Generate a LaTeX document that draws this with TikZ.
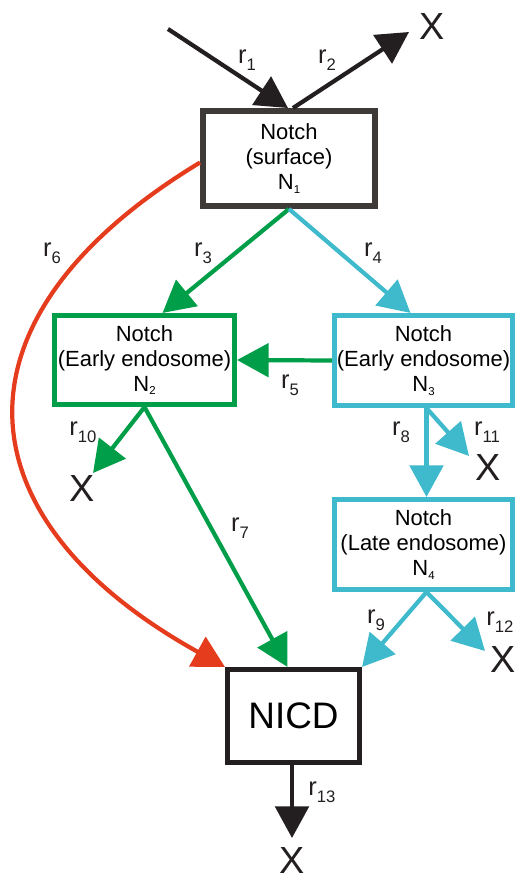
\documentclass[tikz,border=0pt]{standalone}
\usepackage{fontspec}
\setmainfont{Liberation Sans}
\usetikzlibrary{arrows.meta,calc}
\definecolor{cgreen}{RGB}{0,158,73}
\definecolor{ccyan}{RGB}{62,186,204}
\definecolor{cred}{RGB}{230,60,30}
\definecolor{cdark}{RGB}{35,31,32}
\definecolor{cgray}{RGB}{61,58,56}
\newcommand{\rlab}[1]{r\raisebox{-4pt}{\fontsize{9.5}{9.5}\selectfont #1}}
\newcommand{\nsub}[1]{N\raisebox{-2pt}{\fontsize{6.5}{6.5}\selectfont #1}}
\begin{document}
\begin{tikzpicture}[x=0.02cm,y=-0.02cm,
  box/.style={draw, rectangle, fill=white, align=center, inner sep=0pt,
    font=\fontsize{12.5}{14.2}\selectfont},
  arr/.style={line width=2.4pt, -{Triangle[length=18pt,width=19pt]}},
  lab/.style={font=\fontsize{14.5}{14.5}\selectfont, text=cdark, inner sep=0pt},
  xlab/.style={font=\fontsize{21.5}{21.5}\selectfont, text=cdark, inner sep=0pt}]
\useasboundingbox (0,0) rectangle (517,879);

% boxes
\node[box, draw=cgray, line width=3.4pt, minimum width=3.44cm, minimum height=1.9cm] (N1) at (289,158.5)
  {Notch\\(surface)\\\nsub{1}};
\node[box, draw=cgreen, line width=2.9pt, minimum width=3.6cm, minimum height=1.78cm] (N2) at (144.5,360)
  {Notch\\(Early endosome)\\\nsub{2}};
\node[box, draw=ccyan, line width=2.9pt, minimum width=3.56cm, minimum height=1.8cm] (N3) at (423.5,360.5)
  {Notch\\(Early endosome)\\\nsub{3}};
\node[box, draw=ccyan, line width=2.9pt, minimum width=3.56cm, minimum height=1.8cm] (N4) at (423.5,544.5)
  {Notch\\(Late endosome)\\\nsub{4}};
\node[box, draw=cdark, line width=2.9pt, minimum width=2.64cm, minimum height=1.86cm,
  font=\fontsize{21}{21}\selectfont] (NICD) at (293.5,716) {NICD};

% free ends
\coordinate (src) at (168,29);
\coordinate (x2) at (409,32);
\coordinate (x10) at (93,473);
\coordinate (x11) at (469,456);
\coordinate (x12) at (485,651);
\coordinate (x13) at (292,838);

% X labels
\node[xlab] (X2) at (432,27) {X};
\node[xlab] (X10) at (82,489) {X};
\node[xlab] (X11) at (488,468) {X};
\node[xlab] (X12) at (503,659) {X};
\node[xlab] (X13) at (292,860) {X};

% connectors
\draw[arr, cdark] (src) -- ($(N1.north)+(-1,0)$);
\draw[arr, cdark] ($(N1.north)+(4,0)$) -- (x2);
\draw[arr, cgreen] (N1.south) -- ($(N2.north)+(18,0)$);
\draw[arr, ccyan] (N1.south) -- ($(N3.north)+(-13,0)$);
\draw[arr, cgreen] (N3.west) -- (N2.east);
\draw[arr, cred] ($(N1.west)+(0,4)$) .. controls (-60,320) and (-40,520) .. (NICD.north west);
\draw[arr, cgreen] (N2.south) -- ($(NICD.north)+(-6,0)$);
\draw[arr, cgreen] (N2.south) -- (x10);
\draw[arr, ccyan] ($(N3.south)+(3,0)$) -- ($(N4.north)+(3,0)$);
\draw[arr, ccyan] ($(N3.south)+(3,0)$) -- (x11);
\draw[arr, ccyan] ($(N4.south)+(3,0)$) -- (NICD.north east);
\draw[arr, ccyan] ($(N4.south)+(3,0)$) -- (x12);
\draw[arr, cdark] ($(NICD.south)+(-1.5,0)$) -- (x13);

% reaction labels
\node[lab] (l1) at (247,60) {\rlab{1}};
\node[lab] (l2) at (327,60) {\rlab{2}};
\node[lab] (l3) at (203,253) {\rlab{3}};
\node[lab] (l4) at (373,253) {\rlab{4}};
\node[lab] (l5) at (290,385) {\rlab{5}};
\node[lab] (l6) at (52,253) {\rlab{6}};
\node[lab] (l7) at (240,528) {\rlab{7}};
\node[lab] (l8) at (401,432) {\rlab{8}};
\node[lab] (l9) at (376,620) {\rlab{9}};
\node[lab] (l10) at (83,432) {\rlab{10}};
\node[lab] (l11) at (487,432) {\rlab{11}};
\node[lab] (l12) at (500,622) {\rlab{12}};
\node[lab] (l13) at (322,792) {\rlab{13}};
\end{tikzpicture}
\end{document}
